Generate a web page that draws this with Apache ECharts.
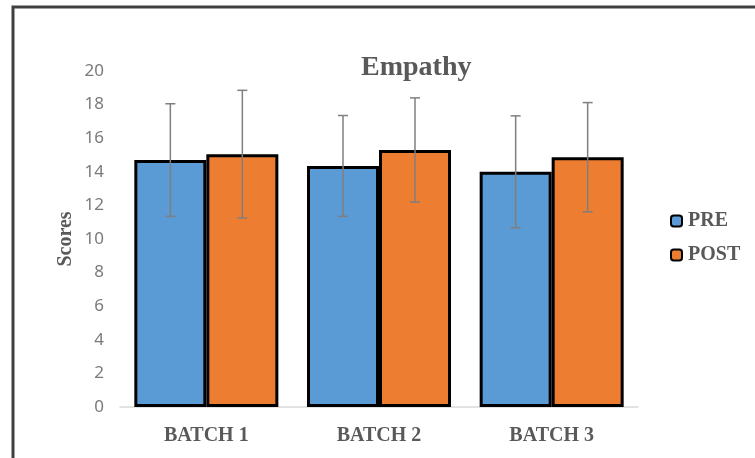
<!DOCTYPE html>
<html>
<head>
<meta charset="utf-8">
<style>
  html, body { margin: 0; padding: 0; background: #fff; }
  #chart { width: 755px; height: 458px; }
</style>
<script src="https://cdn.jsdelivr.net/npm/echarts@6/dist/echarts.min.js"></script>
</head>
<body>
<div id="chart"></div>
<script>
// Empathy scores per batch, before and after
const categories = ['BATCH 1', 'BATCH 2', 'BATCH 3'];
const preMeans = [14.7, 14.35, 14.0];
const postMeans = [15.05, 15.3, 14.87];
const preSD = [3.35, 3.0, 3.33];
const postSD = [3.8, 3.1, 3.25];
const yTicks = { min: 0, max: 20, interval: 2 };

const BAR_W = 72;
const GREY = '#595959';

function errorSeries(name, means, sds, side) {
  return {
    type: 'custom',
    name: name + ' error',
    z: 10,
    silent: true,
    data: means.map((m, i) => [i, m - sds[i], m + sds[i]]),
    renderItem: function (params, api) {
      const lo = api.coord([api.value(0), api.value(1)]);
      const hi = api.coord([api.value(0), api.value(2)]);
      const x = lo[0] + side * BAR_W / 2;
      const cap = 5;
      const style = { stroke: '#7f7f7f', lineWidth: 1.5 };
      return {
        type: 'group',
        children: [
          { type: 'line', shape: { x1: x, y1: lo[1], x2: x, y2: hi[1] }, style },
          { type: 'line', shape: { x1: x - cap, y1: hi[1], x2: x + cap, y2: hi[1] }, style },
          { type: 'line', shape: { x1: x - cap, y1: lo[1], x2: x + cap, y2: lo[1] }, style }
        ]
      };
    }
  };
}

const chart = echarts.init(document.getElementById('chart'));
chart.setOption({
  animation: false,
  backgroundColor: '#fff',
  title: {
    text: 'Empathy',
    left: 356,
    top: 49,
    textStyle: { fontFamily: 'Liberation Serif', fontWeight: 'bold', fontSize: 28, color: GREY }
  },
  legend: {
    orient: 'vertical',
    left: 665,
    top: 206,
    itemWidth: 11,
    itemHeight: 11,
    itemGap: 14,
    data: ['PRE', 'POST'],
    itemStyle: { borderColor: '#000', borderWidth: 2 },
    textStyle: { fontFamily: 'Liberation Serif', fontWeight: 'bold', fontSize: 20, color: GREY, padding: [0, 0, 0, 1] }
  },
  grid: { left: 120, right: 117, top: 71, bottom: 51 },
  xAxis: {
    type: 'category',
    data: categories,
    axisLine: { lineStyle: { color: '#d9d9d9', width: 1.5 } },
    axisTick: { show: false },
    axisLabel: { fontFamily: 'Liberation Serif', fontWeight: 'bold', fontSize: 20, color: GREY, margin: 19 }
  },
  yAxis: {
    type: 'value',
    min: yTicks.min,
    max: yTicks.max,
    interval: yTicks.interval,
    name: 'Scores',
    nameLocation: 'middle',
    nameGap: 44,
    nameMoveOverlap: false,
    nameTextStyle: { fontFamily: 'Liberation Serif', fontWeight: 'bold', fontSize: 20, color: GREY },
    splitLine: { show: false },
    axisLine: { show: false },
    axisTick: { show: false },
    axisLabel: { fontFamily: 'Noto Sans', fontSize: 17, color: '#7a7a7a', margin: 16 }
  },
  series: [
    {
      name: 'PRE', type: 'bar', data: preMeans, barWidth: BAR_W, barGap: '0%',
      itemStyle: { color: '#5B9BD5', borderColor: '#000', borderWidth: 3 }
    },
    {
      name: 'POST', type: 'bar', data: postMeans, barWidth: BAR_W, barGap: '0%',
      itemStyle: { color: '#ED7D31', borderColor: '#000', borderWidth: 3 }
    },
    errorSeries('PRE', preMeans, preSD, -1),
    errorSeries('POST', postMeans, postSD, 1)
  ],
  graphic: [
    {
      type: 'rect',
      silent: true,
      shape: { x: 13, y: 7, width: 800, height: 500 },
      style: { fill: 'none', stroke: '#404040', lineWidth: 3 }
    }
  ]
});
</script>
</body>
</html>
